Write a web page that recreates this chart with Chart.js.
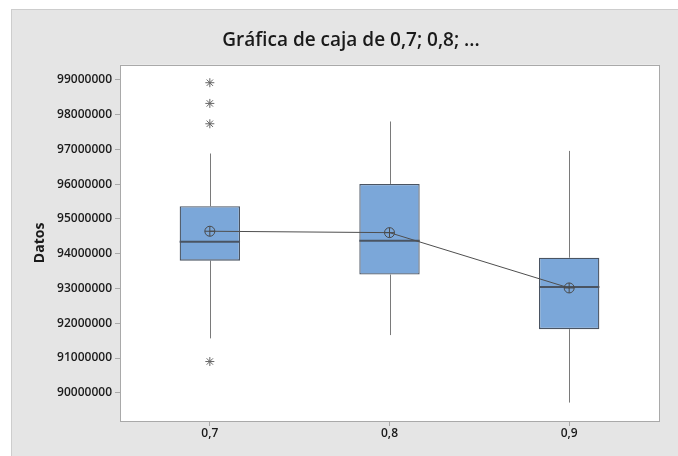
<!DOCTYPE html>
<html>
<head>
<meta charset="utf-8">
<script src="https://cdn.jsdelivr.net/npm/chart.js@4/dist/chart.umd.min.js"></script>
<style>
    body { margin: 0; background: #fff; }
    .panel {
        position: absolute;
        left: 11px;
        top: 9px;
        width: 667px;
        height: 447px;
        box-sizing: border-box;
        background: #e5e5e5;
        border-left: 1px solid #cdcdcd;
        border-top: 1px solid #cdcdcd;
    }
    .panel canvas { display: block; }
</style>
</head>
<body>
<div class="panel"><canvas id="boxChart"></canvas></div>
<script>
const categories = ['0,7', '0,8', '0,9'];
const q1Values = [93800000, 93400000, 91830000];
const medianValues = [94340000, 94375000, 93045000];
const q3Values = [95365000, 96005000, 93885000];
const whiskerLow = [91565000, 91660000, 89720000];
const whiskerHigh = [96880000, 97800000, 96955000];
const meanValues = [94645000, 94605000, 93015000];
const outlierCategories = ['0,7', '0,7', '0,7', '0,7'];
const outlierValues = [98915000, 98320000, 97735000, 90900000];
const yTicks = [90000000, 91000000, 92000000, 93000000, 94000000, 95000000, 96000000, 97000000, 98000000, 99000000];

const boxFill = '#7ba7d9';
const boxLine = '#4a5462';
const whiskerColor = '#7a7a7a';

const boxPlotParts = {
    id: 'boxPlotParts',
    beforeDraw(chart) {
        const { ctx, chartArea } = chart;
        ctx.save();
        ctx.fillStyle = '#ffffff';
        ctx.fillRect(chartArea.left, chartArea.top, chartArea.right - chartArea.left, chartArea.bottom - chartArea.top);
        ctx.restore();
    },
    beforeDatasetsDraw(chart) {
        const { ctx } = chart;
        const y = chart.scales.y;
        const bars = chart.getDatasetMeta(0).data;
        ctx.save();
        ctx.strokeStyle = whiskerColor;
        ctx.lineWidth = 1;
        bars.forEach(function(bar, i) {
            const x = Math.round(bar.x) + 0.5;
            ctx.beginPath();
            ctx.moveTo(x, y.getPixelForValue(q3Values[i]));
            ctx.lineTo(x, y.getPixelForValue(whiskerHigh[i]));
            ctx.moveTo(x, y.getPixelForValue(q1Values[i]));
            ctx.lineTo(x, y.getPixelForValue(whiskerLow[i]));
            ctx.stroke();
        });
        ctx.restore();
    },
    afterDatasetDraw(chart, args) {
        if (args.index !== 0) return;
        const { ctx } = chart;
        const y = chart.scales.y;
        ctx.save();
        ctx.strokeStyle = boxLine;
        ctx.lineWidth = 2;
        args.meta.data.forEach(function(bar, i) {
            const py = y.getPixelForValue(medianValues[i]);
            ctx.beginPath();
            ctx.moveTo(bar.x - bar.width / 2, py);
            ctx.lineTo(bar.x + bar.width / 2, py);
            ctx.stroke();
        });
        ctx.restore();
    },
    afterDraw(chart) {
        const { ctx, chartArea } = chart;
        ctx.save();
        ctx.strokeStyle = '#a9a9a9';
        ctx.lineWidth = 1;
        ctx.strokeRect(Math.round(chartArea.left) + 0.5, Math.round(chartArea.top) + 0.5,
            Math.round(chartArea.right - chartArea.left), Math.round(chartArea.bottom - chartArea.top));
        ctx.restore();
    }
};

document.addEventListener('DOMContentLoaded', function() {
    const ctx = document.getElementById('boxChart').getContext('2d');

    const boxData = categories.map(function(c, i) {
        return [q1Values[i], q3Values[i]];
    });
    const outlierData = outlierValues.map(function(v, i) {
        return { x: outlierCategories[i], y: v };
    });

    new Chart(ctx, {
        data: {
            labels: categories,
            datasets: [{
                type: 'bar',
                data: boxData,
                backgroundColor: boxFill,
                borderColor: boxLine,
                borderWidth: 1.3,
                borderSkipped: false,
                barPercentage: 0.336,
                categoryPercentage: 1,
                order: 5
            }, {
                type: 'line',
                data: meanValues,
                borderColor: '#4f4f4f',
                borderWidth: 1,
                pointStyle: 'circle',
                pointRadius: 5,
                pointBackgroundColor: 'rgba(0,0,0,0)',
                pointBorderColor: '#4a4a4a',
                pointBorderWidth: 1,
                order: 2
            }, {
                type: 'line',
                data: meanValues,
                showLine: false,
                pointStyle: 'cross',
                pointRadius: 5,
                pointBorderColor: '#4a4a4a',
                pointBorderWidth: 1,
                order: 1
            }, {
                type: 'line',
                data: outlierData,
                showLine: false,
                pointStyle: 'star',
                pointRadius: 4.5,
                pointBorderColor: '#666666',
                pointBorderWidth: 1,
                order: 1
            }]
        },
        options: {
            responsive: true,
            maintainAspectRatio: false,
            animation: false,
            layout: {
                padding: { left: 12, right: 0, top: 0, bottom: 0 }
            },
            plugins: {
                legend: { display: false },
                tooltip: { enabled: false },
                title: {
                    display: true,
                    text: 'Gráfica de caja de 0,7; 0,8; ...',
                    color: '#1a1a1a',
                    font: { family: 'Open Sans', size: 19, weight: '600' },
                    padding: { top: 19, bottom: 13 }
                }
            },
            scales: {
                x: {
                    type: 'category',
                    offset: true,
                    grid: {
                        offset: false,
                        drawOnChartArea: false,
                        tickLength: 5,
                        color: '#a9a9a9'
                    },
                    border: { display: false },
                    ticks: {
                        color: '#1a1a1a',
                        padding: 0,
                        font: { family: 'Open Sans', size: 12, weight: '600' }
                    },
                    afterFit: function(scale) {
                        scale.height = 35;
                    }
                },
                y: {
                    min: 89190000,
                    max: 99430000,
                    grid: {
                        drawOnChartArea: false,
                        tickLength: 5,
                        color: '#a9a9a9'
                    },
                    border: { display: false },
                    ticks: {
                        color: '#1a1a1a',
                        padding: 3,
                        includeBounds: false,
                        font: { family: 'Open Sans', size: 12, weight: '600' },
                        callback: function(value) {
                            return String(value);
                        }
                    },
                    afterBuildTicks: function(scale) {
                        scale.ticks = yTicks.map(function(v) { return { value: v }; });
                    },
                    title: {
                        display: true,
                        text: 'Datos',
                        color: '#1a1a1a',
                        font: { family: 'Open Sans', size: 14, weight: 'bold' },
                        padding: { top: 8, bottom: 0 }
                    },
                    afterFit: function(scale) {
                        scale.width = 96;
                    }
                },
                yRight: {
                    position: 'right',
                    grid: { display: false },
                    border: { display: false },
                    ticks: { display: false },
                    afterFit: function(scale) {
                        scale.width = 19;
                    }
                }
            }
        },
        plugins: [boxPlotParts]
    });
});
</script>
</body>
</html>
